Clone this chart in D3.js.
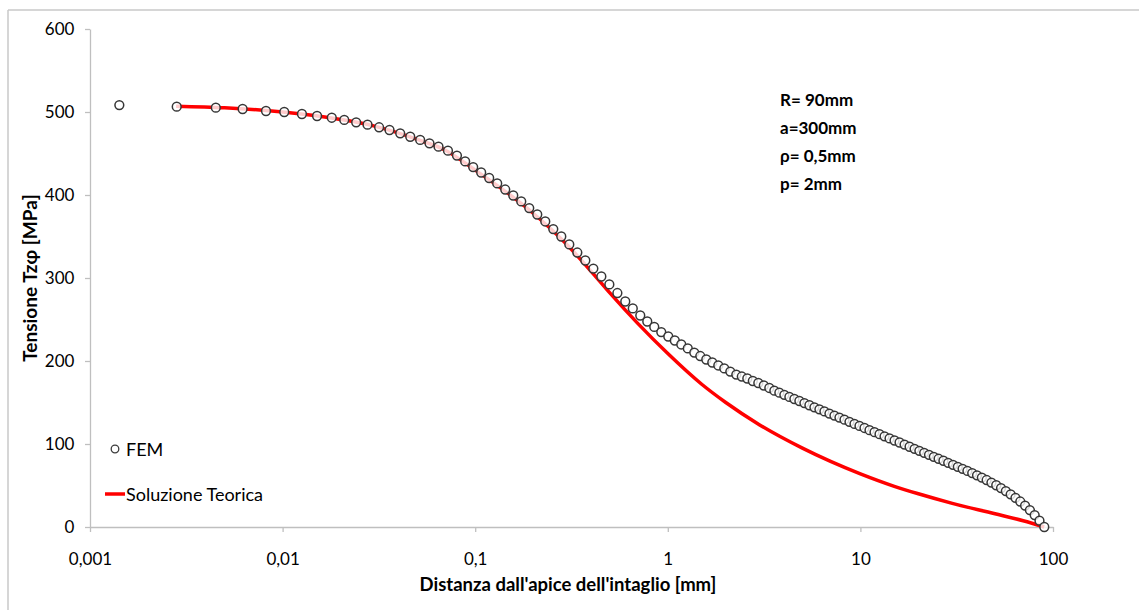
<!DOCTYPE html>
<html>
<head>
<meta charset="utf-8">
<script src="https://cdn.jsdelivr.net/npm/d3@7"></script>
<style>
  body { margin: 0; background: #fff; }
  svg text { font-family: Lato, "Open Sans", sans-serif; }
</style>
</head>
<body>
<svg id="chart" width="1139" height="610"></svg>
<script>
// tick values / labels
var xTicks = [0.001, 0.01, 0.1, 1, 10, 100];
var xTickLabels = ["0,001", "0,01", "0,1", "1", "10", "100"];
var yTicks = [0, 100, 200, 300, 400, 500, 600];

// FEM points (distance mm, stress MPa)
var femX = [0.00142, 0.00282, 0.0045, 0.0062, 0.0082, 0.0102, 0.0126, 0.0151, 0.0180, 0.0209,
  0.0241, 0.0276, 0.0317, 0.0359, 0.0408, 0.0460, 0.0518, 0.0579, 0.0645, 0.0722, 0.0804,
  0.0887, 0.0976, 0.1074, 0.1182, 0.1301, 0.1432, 0.1576, 0.1734, 0.1908, 0.2100,
  0.2311, 0.2543, 0.2799, 0.3080, 0.3390, 0.3731, 0.4106, 0.4518, 0.4972, 0.5472,
  0.6015, 0.6579, 0.7196, 0.7824, 0.8507, 0.9250, 1.0058, 1.0871, 1.1749, 1.2698,
  1.3724, 1.4745, 1.5842, 1.7021, 1.8287, 1.9648, 2.1110, 2.2681, 2.4223, 2.5870,
  2.7629, 2.9508, 3.1515, 3.3658,
  3.5745, 3.795, 4.029, 4.278, 4.542, 4.822, 5.120, 5.436, 5.771, 6.127,
  6.505, 6.907, 7.333, 7.785, 8.266, 8.776, 9.317, 9.892, 10.503, 11.151,
  11.839, 12.569, 13.345, 14.168, 15.042, 15.971, 16.956, 18.002, 19.113,
  20.24, 21.44, 22.71, 24.05, 25.47, 26.98, 28.57, 30.26, 32.05, 33.94,
  35.95, 38.07, 40.32, 42.71, 45.23, 47.90, 50.74, 53.73, 56.91, 60.27,
  63.84, 67.61, 71.61, 75.84, 80.32, 85.07, 90.10];
var femY = [508.4, 506.4, 505.2, 503.6, 501.2, 500.0, 497.6, 495.2, 493.1, 490.4,
  487.6, 484.7, 481.6, 478.3, 474.3, 470.2, 466.3, 462.3, 458.2, 453.4, 447.5,
  440.4, 433.7, 427.1, 420.5, 413.9, 406.6, 399.4, 392.2, 384.3, 376.5,
  368.1, 359.0, 350.0, 340.4, 330.7, 321.1, 311.4, 301.8, 292.2, 281.9,
  271.7, 263.3, 254.8, 247.6, 241.0, 234.9, 229.5, 224.7, 219.9, 215.1,
  210.2, 206.0, 201.8, 198.2, 194.6, 191.0, 187.3, 183.7, 181.3, 178.9,
  175.9, 173.5, 170.5, 167.5,
  164.2, 161.8, 159.3, 156.7, 154.2, 151.8, 149.3, 146.7, 144.2, 141.8,
  139.3, 136.7, 134.2, 131.8, 129.3, 126.7, 124.2, 121.8, 119.3, 116.7,
  114.2, 111.8, 109.3, 106.7, 104.2, 101.8, 99.3, 96.7, 94.2,
  91.8, 89.4, 87.0, 84.6, 82.2, 79.8, 77.3, 74.9, 72.5, 70.1,
  67.6, 65.0, 62.3, 59.5, 56.6, 53.5, 50.3, 46.9, 43.3, 39.4,
  35.2, 30.7, 25.8, 20.4, 14.4, 7.6, 0];

// theoretical solution
var teoX = [0.0028, 0.005, 0.01, 0.02, 0.03, 0.05, 0.07, 0.1, 0.15, 0.2, 0.3, 0.4, 0.5, 0.7,
  1, 1.5, 2, 3, 5, 7, 10, 15, 20, 30, 50, 70, 90];
var teoY = [507, 505, 500, 491, 483, 467, 454, 430, 401, 378, 340, 308, 282, 245,
  209, 172, 150, 123, 95, 79, 64, 49, 40, 28.5, 16, 7.5, 0];

var params = ["R= 90mm", "a=300mm", "\u03c1= 0,5mm", "p= 2mm"];

var svg = d3.select("#chart");

// outer frame (top + left edge)
svg.append("line").attr("x1", 8).attr("y1", 10).attr("x2", 1139).attr("y2", 10)
  .attr("stroke", "#c8c8c8").attr("stroke-width", 1.5);
svg.append("line").attr("x1", 8).attr("y1", 10).attr("x2", 8).attr("y2", 610)
  .attr("stroke", "#c8c8c8").attr("stroke-width", 1.5);

var x = d3.scaleLog().domain([0.001, 100]).range([90, 1053]);
var y = d3.scaleLinear().domain([0, 600]).range([527, 29]);

var xAxis = svg.append("g").attr("transform", "translate(0,527)")
  .call(d3.axisBottom(x).tickValues(xTicks).tickSize(5).tickSizeOuter(0)
    .tickFormat(function(d, i) { return xTickLabels[i]; }));
var yAxis = svg.append("g").attr("transform", "translate(90,0)")
  .call(d3.axisLeft(y).tickValues(yTicks).tickSize(5).tickSizeOuter(0));

[xAxis, yAxis].forEach(function(g) {
  g.select(".domain").attr("stroke", "#bfbfbf").attr("stroke-width", 1.3);
  g.selectAll(".tick line").attr("stroke", "#bfbfbf").attr("stroke-width", 1.3);
  g.selectAll(".tick text").attr("fill", "#000").style("font-size", "17px")
    .style("font-family", "Lato, sans-serif");
});
xAxis.selectAll(".tick text").attr("dy", "1.75em");
yAxis.selectAll(".tick text").attr("dx", "-0.45em");

// red theoretical curve
var teo = teoX.map(function(d, i) { return [d, teoY[i]]; });
svg.append("path").datum(teo)
  .attr("d", d3.line().x(function(d) { return x(d[0]); }).y(function(d) { return y(d[1]); })
    .curve(d3.curveMonotoneX))
  .attr("fill", "none").attr("stroke", "#ff0000").attr("stroke-width", 3.5);

// FEM markers
var fem = femX.map(function(d, i) { return [d, femY[i]]; });
svg.append("g").selectAll("circle").data(fem).enter().append("circle")
  .attr("cx", function(d) { return x(d[0]); })
  .attr("cy", function(d) { return y(d[1]); })
  .attr("r", 4.4)
  .attr("fill", "#fff")
  .attr("fill-opacity", 0.8)
  .attr("stroke", "#363636")
  .attr("stroke-width", 1.5);

// legend
svg.append("circle").attr("cx", 115).attr("cy", 449).attr("r", 3.8)
  .attr("fill", "#fff").attr("stroke", "#3c3c3c").attr("stroke-width", 1.3);
svg.append("text").attr("x", 126).attr("y", 456).text("FEM").style("font-size", "18px");
svg.append("line").attr("x1", 105).attr("x2", 125).attr("y1", 494).attr("y2", 494)
  .attr("stroke", "#ff0000").attr("stroke-width", 3.5);
svg.append("text").attr("x", 126).attr("y", 501).text("Soluzione Teorica").style("font-size", "18px");

// parameters
svg.append("g").selectAll("text").data(params).enter().append("text")
  .attr("x", 780).attr("y", function(d, i) { return 106 + i * 28; })
  .text(function(d) { return d; })
  .style("font-size", "17px").style("font-weight", "bold");

// axis titles
svg.append("text").attr("x", 568).attr("y", 591).attr("text-anchor", "middle")
  .style("font-size", "18.5px").style("font-weight", "bold")
  .text("Distanza dall'apice dell'intaglio [mm]");
svg.append("text").attr("transform", "translate(37,278) rotate(-90)")
  .attr("text-anchor", "middle")
  .style("font-size", "19px").style("font-weight", "bold")
  .text("Tensione Tz\u03c6 [MPa]");
</script>
</body>
</html>
